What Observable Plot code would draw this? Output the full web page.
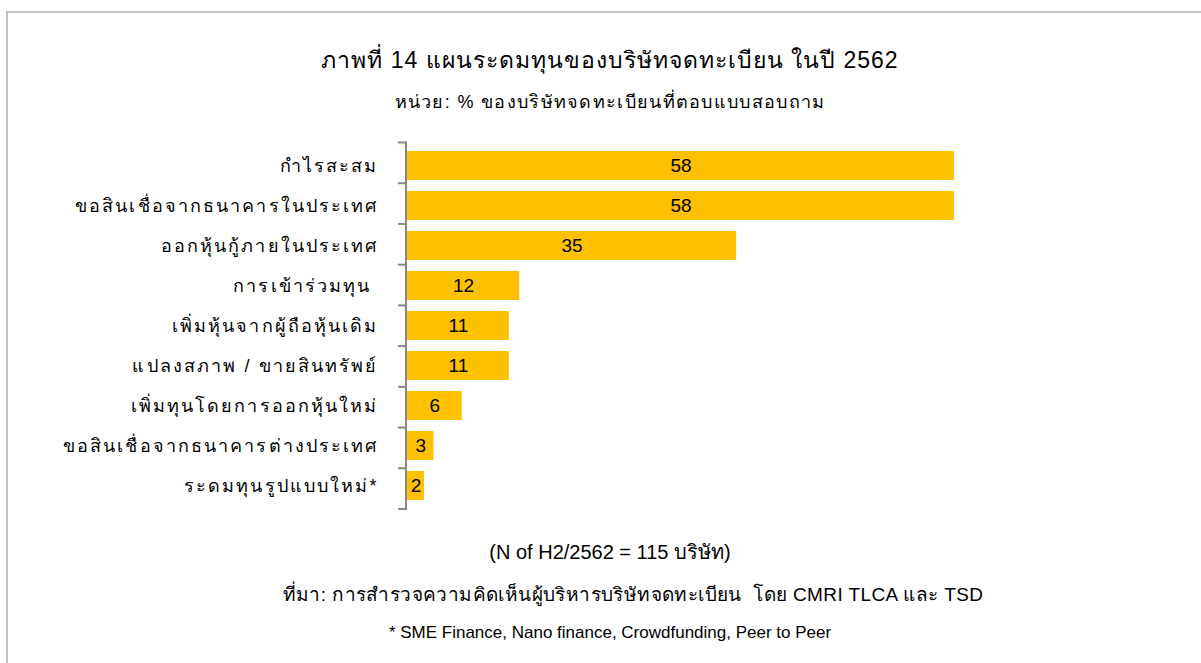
<!DOCTYPE html>
<html>
<head>
<meta charset="utf-8">
<script src="https://cdn.jsdelivr.net/npm/d3@7"></script>
<script src="https://cdn.jsdelivr.net/npm/@observablehq/plot@0.6"></script>
<style>
  html, body { margin: 0; padding: 0; background: #fff; overflow: hidden; width: 1201px; height: 663px; }
  body { position: relative; font-family: "Liberation Sans", Arial, "DejaVu Sans", sans-serif; color: #000; }
  #frame { position: absolute; left: 6px; top: 11px; width: 1300px; height: 800px; border: 2px solid #c0c0c0; box-sizing: border-box; }
  .t { position: absolute; left: 0; width: 1220px; text-align: center; white-space: nowrap; line-height: 1; }
  #title { top: 49px; font-size: 23px; letter-spacing: 1px; }
  #subtitle { top: 93px; font-size: 18px; letter-spacing: 1.3px; }
  #n { top: 542px; font-size: 20px; }
  #src { top: 585px; font-size: 19px; letter-spacing: 0.4px; left: 23px; width: 1220px; }
  #note { top: 624px; font-size: 17px; }
  #chart { position: absolute; left: 0; top: 130px; }
  #chart svg g[aria-label="y-axis tick label"] text { letter-spacing: 2.1px; }
</style>
</head>
<body>
<div id="frame"></div>
<div class="t" id="title">ภาพที่ 14 แผนระดมทุนของบริษัทจดทะเบียน ในปี 2562</div>
<div class="t" id="subtitle">หน่วย: % ของบริษัทจดทะเบียนที่ตอบแบบสอบถาม</div>
<div id="chart"></div>
<div class="t" id="n">(N of H2/2562 = 115 บริษัท)</div>
<div class="t" id="src">ที่มา: การสำรวจความคิดเห็นผู้บริหารบริษัทจดทะเบียน&nbsp; โดย CMRI TLCA และ TSD</div>
<div class="t" id="note">* SME Finance, Nano finance, Crowdfunding, Peer to Peer</div>
<script>
const categories = [
  "กำไรสะสม",
  "ขอสินเชื่อจากธนาคารในประเทศ",
  "ออกหุ้นกู้ภายในประเทศ",
  "การเข้าร่วมทุน ",
  "เพิ่มหุ้นจากผู้ถือหุ้นเดิม",
  "แปลงสภาพ / ขายสินทรัพย์",
  "เพิ่มทุนโดยการออกหุ้นใหม่",
  "ขอสินเชื่อจากธนาคารต่างประเทศ",
  "ระดมทุนรูปแบบใหม่*"
];
const values = [58.0, 58.0, 34.9, 11.9, 10.8, 10.8, 5.8, 2.8, 1.8];
const valueLabels = ["58", "58", "35", "12", "11", "11", "6", "3", "2"];

const data = categories.map((c, i) => ({category: c, value: values[i], label: valueLabels[i]}));

function bandAxis(index, scales, vals, dimensions) {
  const {marginTop, marginBottom, marginLeft, height} = dimensions;
  const n = categories.length;
  const top = marginTop, bottom = height - marginBottom;
  const step = (bottom - top) / n;
  const g = d3.create("svg:g")
    .attr("stroke", "#878787")
    .attr("stroke-width", 2)
    .attr("fill", "none");
  g.append("line")
    .attr("x1", marginLeft - 1).attr("x2", marginLeft - 1)
    .attr("y1", top - 1).attr("y2", bottom + 1);
  d3.range(n + 1).forEach(i => {
    g.append("line")
      .attr("x1", marginLeft - 9).attr("x2", marginLeft)
      .attr("y1", top + i * step).attr("y2", top + i * step);
  });
  return g.node();
}

const chart = Plot.plot({
  width: 1201,
  height: 390,
  marginTop: 12.5,
  marginBottom: 11,
  marginLeft: 407,
  marginRight: 247,
  style: {fontFamily: '"Liberation Sans", Arial, "DejaVu Sans", sans-serif', background: "transparent"},
  x: {domain: [0, 58], axis: null},
  y: {domain: categories, paddingInner: 0.27, paddingOuter: 0.135, label: null},
  marks: [
    Plot.barX(data, {x: "value", y: "category", fill: "#FFC000"}),
    Plot.text(data, {x: d => d.value / 2, y: "category", text: "label", fill: "#000", fontSize: 19}),
    Plot.axisY({tickSize: 0, tickPadding: 29, fontSize: 18, fill: "#000", label: null}),
    bandAxis
  ]
});
document.getElementById("chart").appendChild(chart);
</script>
</body>
</html>
